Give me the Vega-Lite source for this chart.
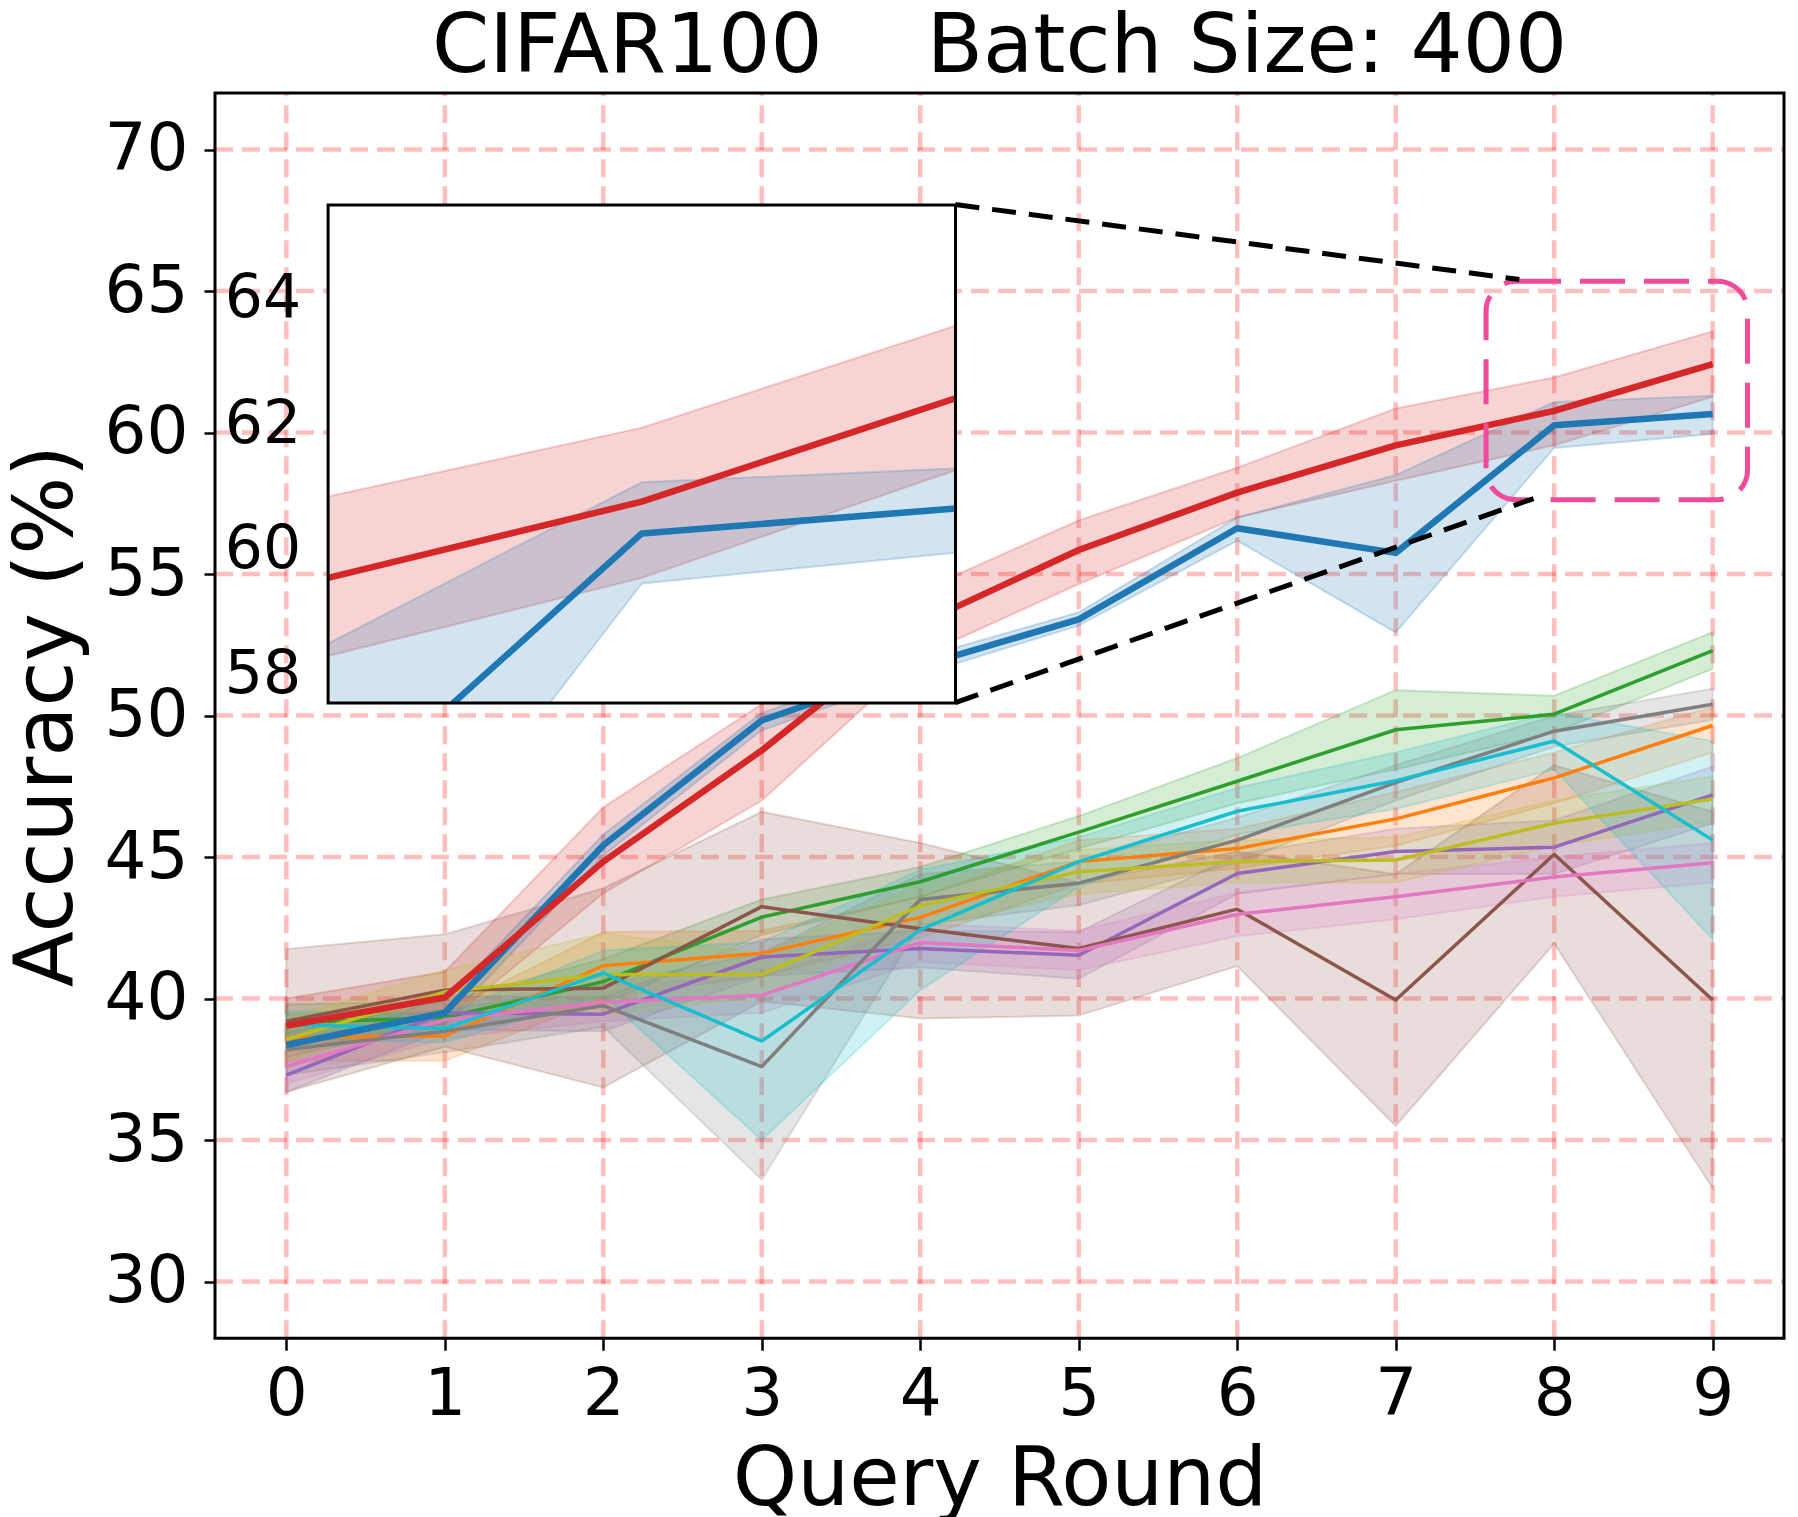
{
  "$schema": "https://vega.github.io/schema/vega-lite/v6.json",
  "background": "white",
  "padding": {"left": 5, "top": 5, "right": 0, "bottom": 0},
  "config": {
    "font": "DejaVu Sans",
    "view": {"stroke": null},
    "axis": {"labelFont": "DejaVu Sans", "titleFont": "DejaVu Sans", "labelColor": "black", "titleColor": "black", "titleFontWeight": "normal", "tickColor": "black", "labelFlush": false, "labelOverlap": false, "domain": false, "grid": false},
    "axisX": {"labelFontSize": 66, "labelPadding": 12, "tickSize": 12, "tickWidth": 2.5, "titleFontSize": 82, "titlePadding": 12},
    "axisY": {"labelFontSize": 66, "labelPadding": 16, "tickSize": 11, "tickWidth": 2.5, "titleFontSize": 82, "titlePadding": 16}
  },
  "datasets": {
    "runs": [
      {"m": "red", "x": 0, "y": 39.04, "lo": 38.1, "hi": 40.0},
      {"m": "red", "x": 1, "y": 40.04, "lo": 39.1, "hi": 40.95},
      {"m": "red", "x": 2, "y": 44.84, "lo": 43.72, "hi": 46.76},
      {"m": "red", "x": 3, "y": 48.77, "lo": 47.0, "hi": 50.4},
      {"m": "red", "x": 4, "y": 53.25, "lo": 52.1, "hi": 54.4},
      {"m": "red", "x": 5, "y": 55.85, "lo": 54.65, "hi": 56.9},
      {"m": "red", "x": 6, "y": 57.88, "lo": 57.0, "hi": 58.76},
      {"m": "red", "x": 7, "y": 59.55, "lo": 58.3, "hi": 60.85},
      {"m": "red", "x": 8, "y": 60.77, "lo": 59.55, "hi": 61.95},
      {"m": "red", "x": 9, "y": 62.42, "lo": 61.27, "hi": 63.58},
      {"m": "blue", "x": 0, "y": 38.36, "lo": 37.95, "hi": 38.8},
      {"m": "blue", "x": 1, "y": 39.5, "lo": 39.1, "hi": 39.9},
      {"m": "blue", "x": 2, "y": 45.42, "lo": 45.05, "hi": 45.8},
      {"m": "blue", "x": 3, "y": 49.83, "lo": 49.48, "hi": 50.1},
      {"m": "blue", "x": 4, "y": 51.76, "lo": 51.45, "hi": 52.05},
      {"m": "blue", "x": 5, "y": 53.4, "lo": 53.18, "hi": 53.65},
      {"m": "blue", "x": 6, "y": 56.62, "lo": 56.18, "hi": 57.0},
      {"m": "blue", "x": 7, "y": 55.75, "lo": 52.94, "hi": 58.5},
      {"m": "blue", "x": 8, "y": 60.26, "lo": 59.46, "hi": 61.08},
      {"m": "blue", "x": 9, "y": 60.66, "lo": 59.95, "hi": 61.3},
      {"m": "green", "x": 0, "y": 39.15, "lo": 38.5, "hi": 39.8},
      {"m": "green", "x": 1, "y": 39.33, "lo": 38.75, "hi": 39.9},
      {"m": "green", "x": 2, "y": 40.6, "lo": 39.8, "hi": 41.4},
      {"m": "green", "x": 3, "y": 42.88, "lo": 42.25, "hi": 43.5},
      {"m": "green", "x": 4, "y": 44.13, "lo": 43.6, "hi": 44.65},
      {"m": "green", "x": 5, "y": 45.88, "lo": 45.3, "hi": 46.45},
      {"m": "green", "x": 6, "y": 47.68, "lo": 46.9, "hi": 48.5},
      {"m": "green", "x": 7, "y": 49.5, "lo": 48.1, "hi": 50.9},
      {"m": "green", "x": 8, "y": 50.05, "lo": 49.4, "hi": 50.7},
      {"m": "green", "x": 9, "y": 52.3, "lo": 51.65, "hi": 52.95},
      {"m": "orange", "x": 0, "y": 38.62, "lo": 37.8, "hi": 39.45},
      {"m": "orange", "x": 1, "y": 38.68, "lo": 37.8, "hi": 39.55},
      {"m": "orange", "x": 2, "y": 41.16, "lo": 40.0, "hi": 42.35},
      {"m": "orange", "x": 3, "y": 41.6, "lo": 40.8, "hi": 42.4},
      {"m": "orange", "x": 4, "y": 42.87, "lo": 42.15, "hi": 43.6},
      {"m": "orange", "x": 5, "y": 44.84, "lo": 44.05, "hi": 45.6},
      {"m": "orange", "x": 6, "y": 45.3, "lo": 44.6, "hi": 46.0},
      {"m": "orange", "x": 7, "y": 46.35, "lo": 45.4, "hi": 47.3},
      {"m": "orange", "x": 8, "y": 47.8, "lo": 46.9, "hi": 48.7},
      {"m": "orange", "x": 9, "y": 49.65, "lo": 48.7, "hi": 50.3},
      {"m": "purple", "x": 0, "y": 37.3, "lo": 36.7, "hi": 37.9},
      {"m": "purple", "x": 1, "y": 39.5, "lo": 38.9, "hi": 40.1},
      {"m": "purple", "x": 2, "y": 39.45, "lo": 38.85, "hi": 40.05},
      {"m": "purple", "x": 3, "y": 41.47, "lo": 40.8, "hi": 42.1},
      {"m": "purple", "x": 4, "y": 41.77, "lo": 41.1, "hi": 42.4},
      {"m": "purple", "x": 5, "y": 41.53, "lo": 40.7, "hi": 42.35},
      {"m": "purple", "x": 6, "y": 44.42, "lo": 43.7, "hi": 45.1},
      {"m": "purple", "x": 7, "y": 45.2, "lo": 44.4, "hi": 46.0},
      {"m": "purple", "x": 8, "y": 45.35, "lo": 44.4, "hi": 46.3},
      {"m": "purple", "x": 9, "y": 47.2, "lo": 46.2, "hi": 48.2},
      {"m": "brown", "x": 0, "y": 39.2, "lo": 36.7, "hi": 41.75},
      {"m": "brown", "x": 1, "y": 40.3, "lo": 38.3, "hi": 42.27},
      {"m": "brown", "x": 2, "y": 40.37, "lo": 36.86, "hi": 43.9},
      {"m": "brown", "x": 3, "y": 43.25, "lo": 39.9, "hi": 46.6},
      {"m": "brown", "x": 4, "y": 42.47, "lo": 39.3, "hi": 45.5},
      {"m": "brown", "x": 5, "y": 41.77, "lo": 39.4, "hi": 44.1},
      {"m": "brown", "x": 6, "y": 43.16, "lo": 41.15, "hi": 45.2},
      {"m": "brown", "x": 7, "y": 39.95, "lo": 35.5, "hi": 44.4},
      {"m": "brown", "x": 8, "y": 45.1, "lo": 41.95, "hi": 48.25},
      {"m": "brown", "x": 9, "y": 39.95, "lo": 33.3, "hi": 46.6},
      {"m": "pink", "x": 0, "y": 37.6, "lo": 37.0, "hi": 38.2},
      {"m": "pink", "x": 1, "y": 39.25, "lo": 38.6, "hi": 39.9},
      {"m": "pink", "x": 2, "y": 39.86, "lo": 39.2, "hi": 40.5},
      {"m": "pink", "x": 3, "y": 40.12, "lo": 39.5, "hi": 40.75},
      {"m": "pink", "x": 4, "y": 41.98, "lo": 41.3, "hi": 42.65},
      {"m": "pink", "x": 5, "y": 41.7, "lo": 41.0, "hi": 42.4},
      {"m": "pink", "x": 6, "y": 42.98, "lo": 42.2, "hi": 43.75},
      {"m": "pink", "x": 7, "y": 43.6, "lo": 42.8, "hi": 44.4},
      {"m": "pink", "x": 8, "y": 44.3, "lo": 43.6, "hi": 45.0},
      {"m": "pink", "x": 9, "y": 44.8, "lo": 44.1, "hi": 45.5},
      {"m": "gray", "x": 0, "y": 38.2, "lo": 37.3, "hi": 39.1},
      {"m": "gray", "x": 1, "y": 38.85, "lo": 38.1, "hi": 39.6},
      {"m": "gray", "x": 2, "y": 39.75, "lo": 39.0, "hi": 40.5},
      {"m": "gray", "x": 3, "y": 37.6, "lo": 33.6, "hi": 41.6},
      {"m": "gray", "x": 4, "y": 43.5, "lo": 42.6, "hi": 44.4},
      {"m": "gray", "x": 5, "y": 44.08, "lo": 43.3, "hi": 44.85},
      {"m": "gray", "x": 6, "y": 45.6, "lo": 44.8, "hi": 46.4},
      {"m": "gray", "x": 7, "y": 47.63, "lo": 47.0, "hi": 48.25},
      {"m": "gray", "x": 8, "y": 49.45, "lo": 48.9, "hi": 50.0},
      {"m": "gray", "x": 9, "y": 50.4, "lo": 49.85, "hi": 50.95},
      {"m": "olive", "x": 0, "y": 38.56, "lo": 37.8, "hi": 39.3},
      {"m": "olive", "x": 1, "y": 40.24, "lo": 39.5, "hi": 41.0},
      {"m": "olive", "x": 2, "y": 40.85, "lo": 39.4, "hi": 42.3},
      {"m": "olive", "x": 3, "y": 40.85, "lo": 40.1, "hi": 41.6},
      {"m": "olive", "x": 4, "y": 43.28, "lo": 42.5, "hi": 44.05},
      {"m": "olive", "x": 5, "y": 44.48, "lo": 43.7, "hi": 45.25},
      {"m": "olive", "x": 6, "y": 44.84, "lo": 44.1, "hi": 45.6},
      {"m": "olive", "x": 7, "y": 44.9, "lo": 44.1, "hi": 45.7},
      {"m": "olive", "x": 8, "y": 46.2, "lo": 45.4, "hi": 47.0},
      {"m": "olive", "x": 9, "y": 47.05, "lo": 46.25, "hi": 47.85},
      {"m": "cyan", "x": 0, "y": 39.08, "lo": 38.6, "hi": 39.55},
      {"m": "cyan", "x": 1, "y": 38.94, "lo": 38.45, "hi": 39.45},
      {"m": "cyan", "x": 2, "y": 40.9, "lo": 40.1, "hi": 41.7},
      {"m": "cyan", "x": 3, "y": 38.5, "lo": 35.0, "hi": 42.0},
      {"m": "cyan", "x": 4, "y": 42.43, "lo": 40.3, "hi": 44.55},
      {"m": "cyan", "x": 5, "y": 44.84, "lo": 43.95, "hi": 45.7},
      {"m": "cyan", "x": 6, "y": 46.62, "lo": 45.8, "hi": 47.45},
      {"m": "cyan", "x": 7, "y": 47.7, "lo": 46.7, "hi": 48.7},
      {"m": "cyan", "x": 8, "y": 49.1, "lo": 48.1, "hi": 50.1},
      {"m": "cyan", "x": 9, "y": 45.6, "lo": 42.1, "hi": 49.1}
    ],
    "gx": [{"v": 0}, {"v": 1}, {"v": 2}, {"v": 3}, {"v": 4}, {"v": 5}, {"v": 6}, {"v": 7}, {"v": 8}, {"v": 9}],
    "gy": [{"v": 30}, {"v": 35}, {"v": 40}, {"v": 45}, {"v": 50}, {"v": 55}, {"v": 60}, {"v": 65}, {"v": 70}],
    "box": [{"x1": 7.57, "x2": 9.22, "y1": 57.63, "y2": 65.35}],
    "conn": [
      {"xa": 4.222, "ya": 68.06, "xb": 7.78, "yb": 65.41},
      {"xa": 4.222, "ya": 50.46, "xb": 7.87, "yb": 57.67}
    ],
    "itk": [{"t": 58}, {"t": 60}, {"t": 62}, {"t": 64}]
  },
  "bounds": "flush",
  "spacing": 0,
  "vconcat": [
    {
      "width": 1569,
      "height": 111.6,
      "title": {"text": "CIFAR100\u00a0\u00a0\u00a0\u00a0Batch Size: 400", "font": "DejaVu Sans", "fontSize": 82, "fontWeight": "normal", "color": "black", "anchor": "middle", "frame": "group", "baseline": "alphabetic", "offset": 23, "dy": 86},
      "layer": [
        {
          "data": {"name": "gx"},
          "mark": {"type": "rule", "color": "#ff0000", "opacity": 0.25, "strokeWidth": 4.5, "strokeDash": [18, 9]},
          "encoding": {
            "x": {"field": "v", "type": "quantitative", "scale": {"domain": [-0.45, 9.45], "nice": false, "zero": false}, "axis": {"values": [0,1,2,3,4,5,6,7,8,9], "title": "Query Round", "offset": 1133.6}},
            "y": {"datum": 28, "type": "quantitative", "scale": {"domain": [28, 72], "nice": false, "zero": false, "range": [1245.2, 0]}, "axis": {"values": [30,35,40,45,50,55,60,65,70], "title": "Accuracy (%)"}},
            "y2": {"datum": 72}
          }
        },
        {
          "data": {"name": "gy"},
          "mark": {"type": "rule", "color": "#ff0000", "opacity": 0.25, "strokeWidth": 4.5, "strokeDash": [18, 9]},
          "encoding": {
            "x": {"datum": -0.45, "type": "quantitative", "scale": {"domain": [-0.45, 9.45], "nice": false, "zero": false}, "axis": {"values": [0,1,2,3,4,5,6,7,8,9], "title": "Query Round", "offset": 1133.6}},
            "x2": {"datum": 9.45},
            "y": {"field": "v", "type": "quantitative", "scale": {"domain": [28, 72], "nice": false, "zero": false, "range": [1245.2, 0]}, "axis": {"values": [30,35,40,45,50,55,60,65,70], "title": "Accuracy (%)"}}
          }
        },
        {
          "data": {"name": "runs"},
          "mark": {"type": "area", "fillOpacity": 0.2, "strokeOpacity": 0.22, "strokeWidth": 2},
          "encoding": {
            "x": {"field": "x", "type": "quantitative", "scale": {"domain": [-0.45, 9.45], "nice": false, "zero": false}, "axis": {"values": [0,1,2,3,4,5,6,7,8,9], "title": "Query Round", "offset": 1133.6}},
            "y": {"field": "lo", "type": "quantitative", "scale": {"domain": [28, 72], "nice": false, "zero": false, "range": [1245.2, 0]}, "axis": {"values": [30,35,40,45,50,55,60,65,70], "title": "Accuracy (%)"}},
            "y2": {"field": "hi"},
            "color": {"field": "m", "type": "nominal", "legend": null,
              "scale": {"domain": ["blue","orange","green","red","purple","brown","pink","gray","olive","cyan"], "range": ["#1f77b4","#ff7f0e","#2ca02c","#d62728","#9467bd","#8c564b","#e377c2","#7f7f7f","#bcbd22","#17becf"]}},
            "stroke": {"field": "m", "type": "nominal", "legend": null,
              "scale": {"domain": ["blue","orange","green","red","purple","brown","pink","gray","olive","cyan"], "range": ["#1f77b4","#ff7f0e","#2ca02c","#d62728","#9467bd","#8c564b","#e377c2","#7f7f7f","#bcbd22","#17becf"]}}
          }
        },
        {
          "data": {"name": "runs"},
          "transform": [{"filter": "datum.m != 'red' && datum.m != 'blue'"}],
          "mark": {"type": "line", "strokeWidth": 3.5, "strokeJoin": "round"},
          "encoding": {
            "x": {"field": "x", "type": "quantitative", "scale": {"domain": [-0.45, 9.45], "nice": false, "zero": false}, "axis": {"values": [0,1,2,3,4,5,6,7,8,9], "title": "Query Round", "offset": 1133.6}},
            "y": {"field": "y", "type": "quantitative", "scale": {"domain": [28, 72], "nice": false, "zero": false, "range": [1245.2, 0]}, "axis": {"values": [30,35,40,45,50,55,60,65,70], "title": "Accuracy (%)"}},
            "color": {"field": "m", "type": "nominal", "legend": null,
              "scale": {"domain": ["blue","orange","green","red","purple","brown","pink","gray","olive","cyan"], "range": ["#1f77b4","#ff7f0e","#2ca02c","#d62728","#9467bd","#8c564b","#e377c2","#7f7f7f","#bcbd22","#17becf"]}}
          }
        },
        {
          "data": {"name": "runs"},
          "transform": [{"filter": "datum.m == 'blue'"}],
          "mark": {"type": "line", "strokeWidth": 6.5, "strokeJoin": "round", "color": "#1f77b4"},
          "encoding": {
            "x": {"field": "x", "type": "quantitative", "scale": {"domain": [-0.45, 9.45], "nice": false, "zero": false}, "axis": {"values": [0,1,2,3,4,5,6,7,8,9], "title": "Query Round", "offset": 1133.6}},
            "y": {"field": "y", "type": "quantitative", "scale": {"domain": [28, 72], "nice": false, "zero": false, "range": [1245.2, 0]}, "axis": {"values": [30,35,40,45,50,55,60,65,70], "title": "Accuracy (%)"}}
          }
        },
        {
          "data": {"name": "runs"},
          "transform": [{"filter": "datum.m == 'red'"}],
          "mark": {"type": "line", "strokeWidth": 6.5, "strokeJoin": "round", "color": "#d62728"},
          "encoding": {
            "x": {"field": "x", "type": "quantitative", "scale": {"domain": [-0.45, 9.45], "nice": false, "zero": false}, "axis": {"values": [0,1,2,3,4,5,6,7,8,9], "title": "Query Round", "offset": 1133.6}},
            "y": {"field": "y", "type": "quantitative", "scale": {"domain": [28, 72], "nice": false, "zero": false, "range": [1245.2, 0]}, "axis": {"values": [30,35,40,45,50,55,60,65,70], "title": "Accuracy (%)"}}
          }
        },
        {
          "data": {"values": [{}]},
          "mark": {"type": "rect", "filled": false, "stroke": "black", "strokeWidth": 3},
          "encoding": {
            "x": {"datum": -0.45, "type": "quantitative", "scale": {"domain": [-0.45, 9.45], "nice": false, "zero": false}, "axis": {"values": [0,1,2,3,4,5,6,7,8,9], "title": "Query Round", "offset": 1133.6}},
            "x2": {"datum": 9.45},
            "y": {"datum": 28, "type": "quantitative", "scale": {"domain": [28, 72], "nice": false, "zero": false, "range": [1245.2, 0]}, "axis": {"values": [30,35,40,45,50,55,60,65,70], "title": "Accuracy (%)"}},
            "y2": {"datum": 72}
          }
        },
        {
          "data": {"name": "box"},
          "mark": {"type": "rect", "filled": false, "stroke": "#ef4b9a", "strokeWidth": 5, "strokeDash": [45, 19], "cornerRadius": 30},
          "encoding": {
            "x": {"field": "x1", "type": "quantitative", "scale": {"domain": [-0.45, 9.45], "nice": false, "zero": false}, "axis": {"values": [0,1,2,3,4,5,6,7,8,9], "title": "Query Round", "offset": 1133.6}},
            "x2": {"field": "x2"},
            "y": {"field": "y1", "type": "quantitative", "scale": {"domain": [28, 72], "nice": false, "zero": false, "range": [1245.2, 0]}, "axis": {"values": [30,35,40,45,50,55,60,65,70], "title": "Accuracy (%)"}},
            "y2": {"field": "y2"}
          }
        },
        {
          "data": {"name": "conn"},
          "mark": {"type": "rule", "color": "black", "strokeWidth": 5, "strokeDash": [24, 13]},
          "encoding": {
            "x": {"field": "xa", "type": "quantitative", "scale": {"domain": [-0.45, 9.45], "nice": false, "zero": false}, "axis": {"values": [0,1,2,3,4,5,6,7,8,9], "title": "Query Round", "offset": 1133.6}},
            "x2": {"field": "xb"},
            "y": {"field": "ya", "type": "quantitative", "scale": {"domain": [28, 72], "nice": false, "zero": false, "range": [1245.2, 0]}, "axis": {"values": [30,35,40,45,50,55,60,65,70], "title": "Accuracy (%)"}},
            "y2": {"field": "yb"}
          }
        }
      ]
    },
    {
      "width": 740.5,
      "height": 498,
      "layer": [
        {
          "data": {"values": [{}]},
          "mark": {"type": "rect", "fill": "white", "stroke": null},
          "encoding": {
            "x": {"datum": 7, "type": "quantitative", "scale": {"domain": [7, 9], "range": [113.1, 740.5], "nice": false, "zero": false}, "axis": null},
            "x2": {"datum": 9},
            "y": {"datum": 57.55, "type": "quantitative", "scale": {"domain": [57.55, 65.51], "nice": false, "zero": false}, "axis": null},
            "y2": {"datum": 65.51}
          }
        },
        {
          "data": {"name": "runs"},
          "transform": [{"filter": "(datum.m == 'blue' || datum.m == 'red') && datum.x >= 7"}],
          "mark": {"type": "area", "fillOpacity": 0.2, "strokeOpacity": 0.22, "strokeWidth": 2, "clip": true},
          "encoding": {
            "x": {"field": "x", "type": "quantitative", "scale": {"domain": [7, 9], "range": [113.1, 740.5], "nice": false, "zero": false}, "axis": null},
            "y": {"field": "lo", "type": "quantitative", "scale": {"domain": [57.55, 65.51], "nice": false, "zero": false}, "axis": null},
            "y2": {"field": "hi"},
            "color": {"field": "m", "type": "nominal", "legend": null, "scale": {"domain": ["blue", "red"], "range": ["#1f77b4", "#d62728"]}},
            "stroke": {"field": "m", "type": "nominal", "legend": null, "scale": {"domain": ["blue", "red"], "range": ["#1f77b4", "#d62728"]}}
          }
        },
        {
          "data": {"name": "runs"},
          "transform": [{"filter": "datum.m == 'blue' && datum.x >= 7"}],
          "mark": {"type": "line", "strokeWidth": 6.5, "strokeJoin": "round", "color": "#1f77b4", "clip": true},
          "encoding": {
            "x": {"field": "x", "type": "quantitative", "scale": {"domain": [7, 9], "range": [113.1, 740.5], "nice": false, "zero": false}, "axis": null},
            "y": {"field": "y", "type": "quantitative", "scale": {"domain": [57.55, 65.51], "nice": false, "zero": false}, "axis": null}
          }
        },
        {
          "data": {"name": "runs"},
          "transform": [{"filter": "datum.m == 'red' && datum.x >= 7"}],
          "mark": {"type": "line", "strokeWidth": 6.5, "strokeJoin": "round", "color": "#d62728", "clip": true},
          "encoding": {
            "x": {"field": "x", "type": "quantitative", "scale": {"domain": [7, 9], "range": [113.1, 740.5], "nice": false, "zero": false}, "axis": null},
            "y": {"field": "y", "type": "quantitative", "scale": {"domain": [57.55, 65.51], "nice": false, "zero": false}, "axis": null}
          }
        },
        {
          "data": {"name": "itk"},
          "mark": {"type": "text", "align": "right", "baseline": "middle", "dx": -27, "fontSize": 60, "font": "DejaVu Sans", "color": "black"},
          "encoding": {
            "x": {"datum": 7, "type": "quantitative", "scale": {"domain": [7, 9], "range": [113.1, 740.5], "nice": false, "zero": false}, "axis": null},
            "y": {"field": "t", "type": "quantitative", "scale": {"domain": [57.55, 65.51], "nice": false, "zero": false}, "axis": null},
            "text": {"field": "t", "type": "quantitative"}
          }
        },
        {
          "data": {"values": [{}]},
          "mark": {"type": "rect", "filled": false, "stroke": "black", "strokeWidth": 3},
          "encoding": {
            "x": {"datum": 7, "type": "quantitative", "scale": {"domain": [7, 9], "range": [113.1, 740.5], "nice": false, "zero": false}, "axis": null},
            "x2": {"datum": 9},
            "y": {"datum": 57.55, "type": "quantitative", "scale": {"domain": [57.55, 65.51], "nice": false, "zero": false}, "axis": null},
            "y2": {"datum": 65.51}
          }
        }
      ]
    }
  ]
}
